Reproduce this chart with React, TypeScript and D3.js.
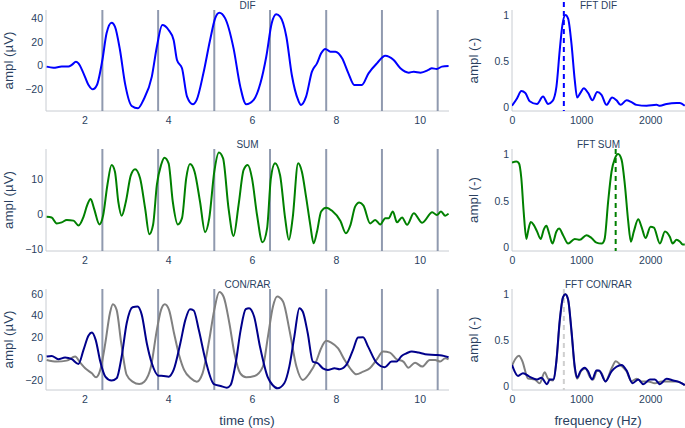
import React, { useEffect, useRef } from 'react';
import * as d3 from 'd3';

// time-domain traces: [time (ms), amplitude (µV)]
const difTrace = [
  [1.10, -1.1], [1.26, -2.0], [1.46, -1.1], [1.62, -1.1], [1.70, 0.3], [1.80, 3.1], [1.86, 1.7],
  [1.98, -6.8], [2.10, -16.7], [2.20, -20.4], [2.30, -16.7], [2.43, 4.5], [2.53, 27.2], [2.65, 36.2],
  [2.73, 32.9], [2.85, 13.0], [2.97, -15.3], [3.13, -34.5], [3.28, -36.5], [3.41, -29.4], [3.61, -9.6],
  [3.73, 15.8], [3.86, 34.2], [4.01, 30.0], [4.13, 21.5], [4.21, 4.5], [4.33, -2.5], [4.45, -26.6],
  [4.59, -33.1], [4.68, -29.4], [4.84, -6.8], [5.00, 21.5], [5.12, 39.9], [5.22, 44.7], [5.36, 39.9],
  [5.56, 14.4], [5.72, -18.1], [5.86, -33.1], [6.04, -29.4], [6.20, -15.3], [6.34, 7.3], [6.47, 35.7],
  [6.58, 43.3], [6.67, 41.3], [6.82, 24.3], [6.95, -8.2], [7.10, -29.4], [7.17, -33.6], [7.29, -26.6],
  [7.43, -5.4], [7.55, 1.7], [7.65, 10.2], [7.75, 13.9], [7.87, 11.6], [7.99, 11.6], [8.15, 6.0],
  [8.30, -6.8], [8.44, -16.7], [8.62, -16.7], [8.78, -6.8], [8.98, 1.7], [9.18, 8.2], [9.38, 4.5],
  [9.54, -2.5], [9.74, -6.2], [9.86, -5.4], [10.02, -6.2], [10.21, -3.9], [10.29, -2.5], [10.41, -3.1],
  [10.53, -1.1], [10.69, -0.5]
];

const sumTrace = [
  [1.10, -0.7], [1.22, -0.9], [1.34, -2.6], [1.46, -2.3], [1.58, -1.6], [1.74, -1.8], [1.86, -3.2],
  [1.98, -0.7], [2.07, 2.7], [2.15, 4.4], [2.23, 1.7], [2.36, -2.9], [2.45, -0.2], [2.55, 8.4],
  [2.65, 14.1], [2.73, 12.2], [2.81, 3.6], [2.89, -0.4], [2.99, 3.6], [3.11, 11.2], [3.21, 12.9],
  [3.33, 10.3], [3.45, 1.7], [3.55, -5.7], [3.64, -3.0], [3.73, 8.4], [3.83, 14.1], [3.91, 16.2],
  [4.01, 14.6], [4.11, 3.6], [4.23, -2.9], [4.33, -1.1], [4.43, 10.3], [4.52, 14.4], [4.63, 12.2],
  [4.76, 3.6], [4.88, -5.1], [4.98, -1.1], [5.10, 12.2], [5.21, 17.7], [5.31, 16.0], [5.44, 1.7],
  [5.56, -6.2], [5.68, 2.7], [5.80, 12.7], [5.90, 14.1], [6.00, 10.3], [6.12, -0.2], [6.25, -8.0],
  [6.36, -4.0], [6.45, 10.3], [6.55, 14.6], [6.67, 11.2], [6.79, -1.1], [6.88, -7.3], [6.97, -1.1],
  [7.10, 14.6], [7.19, 12.2], [7.29, 5.0], [7.39, -3.0], [7.47, -8.3], [7.55, -5.0], [7.65, 0.8],
  [7.77, 1.9], [7.91, 1.0], [8.11, -1.9], [8.24, -5.4], [8.35, -3.0], [8.46, 2.2], [8.56, 3.4],
  [8.66, 2.5], [8.82, -2.6], [8.94, -1.6], [9.06, -2.9], [9.18, -1.1], [9.26, -1.1], [9.36, 0.8],
  [9.46, -2.3], [9.58, -0.9], [9.70, -3.0], [9.86, 0.3], [10.06, -2.4], [10.30, 0.6], [10.41, -0.2],
  [10.51, 0.8], [10.61, -0.4], [10.69, 0.2]
];

const conTrace = [
  [1.10, -1.6], [1.34, -3.1], [1.58, -2.2], [1.78, 1.6], [1.90, -4.1], [2.02, -9.4], [2.18, -14.1],
  [2.28, -17.8], [2.38, -10.9], [2.50, 14.1], [2.61, 42.2], [2.68, 50.6], [2.77, 45.3], [2.88, 14.1],
  [3.01, -15.6], [3.15, -21.9], [3.31, -24.1], [3.43, -21.9], [3.59, -7.8], [3.73, 26.6], [3.83, 45.3],
  [3.92, 50.6], [4.02, 45.3], [4.14, 23.4], [4.26, 3.1], [4.38, -10.9], [4.54, -18.8], [4.68, -21.9],
  [4.82, -14.1], [4.98, 17.2], [5.10, 45.3], [5.22, 61.9], [5.32, 57.8], [5.46, 32.8], [5.58, 4.7],
  [5.72, -14.1], [5.86, -17.8], [6.06, -16.6], [6.26, -7.8], [6.38, 20.3], [6.50, 48.4], [6.60, 57.8],
  [6.74, 53.1], [6.90, 25.0], [7.06, -7.8], [7.21, -20.3], [7.37, -14.1], [7.53, -3.1], [7.65, 9.4],
  [7.77, 16.3], [7.89, 14.7], [8.05, 9.4], [8.21, -1.6], [8.37, -10.9], [8.49, -15.0], [8.65, -12.5],
  [8.81, -9.4], [8.97, -1.6], [9.13, 6.3], [9.29, 5.3], [9.45, -0.9], [9.61, -3.1], [9.73, -8.8],
  [9.89, -4.1], [10.06, -7.8], [10.24, -1.6], [10.37, -1.6], [10.49, -3.1], [10.61, 0.0], [10.69, -0.9]
];

const rarTrace = [
  [1.10, 1.6], [1.22, 2.2], [1.38, -0.9], [1.54, 0.6], [1.70, -0.9], [1.86, -5.3], [1.98, 7.8],
  [2.10, 21.3], [2.18, 24.1], [2.27, 17.2], [2.38, -3.1], [2.50, -17.2], [2.65, -20.9], [2.77, -18.8],
  [2.89, 1.6], [3.01, 32.8], [3.15, 47.8], [3.27, 48.4], [3.37, 40.6], [3.49, 14.1], [3.61, -4.7],
  [3.77, -16.3], [3.89, -16.6], [4.01, -17.2], [4.13, -10.9], [4.29, 14.1], [4.41, 35.9], [4.52, 45.9],
  [4.61, 44.7], [4.73, 26.6], [4.89, -1.6], [5.09, -24.1], [5.25, -25.9], [5.40, -27.5], [5.49, -25.0],
  [5.61, -4.7], [5.73, 26.6], [5.85, 45.9], [5.93, 46.9], [6.05, 39.1], [6.19, 10.9], [6.37, -17.2],
  [6.49, -25.0], [6.61, -28.1], [6.77, -23.4], [6.89, -7.8], [7.01, 20.3], [7.13, 46.9], [7.21, 43.8],
  [7.33, 23.4], [7.45, -3.1], [7.57, -4.7], [7.69, -9.4], [7.81, -10.9], [7.97, -9.4], [8.09, -10.3],
  [8.25, -6.3], [8.41, 7.8], [8.53, 19.4], [8.65, 19.7], [8.77, 10.9], [8.97, -4.1], [9.17, -8.4],
  [9.33, -3.1], [9.45, -3.1], [9.57, 2.2], [9.69, 4.7], [9.81, 6.3], [9.97, 5.3], [10.13, 3.8],
  [10.37, 3.1], [10.53, 2.5], [10.69, 0.9]
];

// spectra: [frequency (Hz), normalised amplitude]
const fftDif = [
  [0, 0.01], [72, 0.09], [135, 0.17], [193, 0.15], [256, 0.06], [362, 0.03], [449, 0.11], [522, 0.03],
  [585, 0.06], [643, 0.22], [691, 0.62], [729, 0.89], [773, 1.0], [812, 0.96], [860, 0.69], [908, 0.29],
  [942, 0.10], [990, 0.15], [1039, 0.20], [1101, 0.15], [1164, 0.07], [1232, 0.16], [1295, 0.13],
  [1367, 0.02], [1449, 0.10], [1512, 0.07], [1570, 0.02], [1657, 0.07], [1729, 0.05], [1802, 0.02],
  [1947, 0.01], [2092, 0.02], [2140, 0.01], [2237, 0.03], [2382, 0.04], [2430, 0.04], [2500, 0.01]
];

const fftSum = [
  [0, 0.91], [63, 0.92], [101, 0.90], [135, 0.74], [169, 0.38], [208, 0.09], [232, 0.17], [271, 0.27],
  [314, 0.24], [362, 0.17], [415, 0.09], [459, 0.19], [498, 0.23], [536, 0.15], [585, 0.04], [643, 0.17],
  [681, 0.20], [739, 0.13], [812, 0.04], [908, 0.09], [981, 0.08], [1077, 0.13], [1150, 0.10],
  [1222, 0.05], [1295, 0.04], [1319, 0.05], [1343, 0.10], [1391, 0.49], [1440, 0.81], [1488, 0.95],
  [1536, 1.0], [1585, 0.94], [1633, 0.67], [1681, 0.28], [1720, 0.06], [1763, 0.17], [1826, 0.30],
  [1874, 0.22], [1932, 0.10], [2005, 0.22], [2053, 0.21], [2140, 0.04], [2213, 0.17], [2285, 0.11],
  [2324, 0.04], [2382, 0.08], [2430, 0.06], [2469, 0.03], [2500, 0.03]
];

const fftCon = [
  [0, 0.22], [53, 0.30], [101, 0.33], [150, 0.27], [232, 0.08], [329, 0.07], [401, 0.03], [473, 0.15],
  [522, 0.08], [594, 0.06], [643, 0.27], [691, 0.70], [739, 0.97], [773, 1.0], [812, 0.94], [860, 0.59],
  [908, 0.19], [942, 0.08], [1005, 0.17], [1063, 0.19], [1126, 0.10], [1174, 0.07], [1232, 0.17],
  [1295, 0.14], [1353, 0.05], [1440, 0.19], [1502, 0.27], [1570, 0.23], [1657, 0.16], [1729, 0.05],
  [1802, 0.08], [1874, 0.05], [1971, 0.05], [2068, 0.03], [2164, 0.05], [2285, 0.05], [2382, 0.05],
  [2500, 0.01]
];

const fftRar = [
  [0, 0.23], [87, 0.11], [159, 0.14], [256, 0.10], [362, 0.07], [425, 0.09], [507, 0.02], [546, 0.07],
  [604, 0.07], [643, 0.28], [691, 0.72], [739, 0.97], [773, 1.0], [812, 0.94], [860, 0.61], [908, 0.21],
  [942, 0.09], [990, 0.16], [1053, 0.20], [1101, 0.16], [1159, 0.07], [1222, 0.17], [1261, 0.17],
  [1353, 0.05], [1440, 0.16], [1512, 0.21], [1585, 0.23], [1657, 0.17], [1744, 0.03], [1826, 0.07],
  [1899, 0.02], [1995, 0.07], [2068, 0.07], [2140, 0.02], [2237, 0.08], [2333, 0.06], [2430, 0.04],
  [2500, 0.01]
];

// stimulus onsets (ms) and reference frequencies (Hz)
const stimTimes = [2.43, 3.76, 5.10, 6.43, 7.77, 9.10, 10.43];
const timeTicks = [2, 4, 6, 8, 10];
const freqTicks = [0, 1000, 2000];
const fftTicks = [0, 0.5, 1];

export default function App() {
  const svgRef = useRef<SVGSVGElement>(null);

  useEffect(() => {
    const svg = d3.select(svgRef.current);
    svg.selectAll('*').remove();

    const font = "Arial, 'Liberation Sans', sans-serif";
    const textColor = '#2a3f5f';
    const rows = [[10, 111], [149, 251], [289, 390]];
    const timeX = [46, 449];
    const freqX = [512, 685];

    const panels = [
      { title: 'DIF', xr: timeX, row: 0, xd: [1.085, 10.7], yd: [-38.8, 47], yt: [-20, 0, 20, 40],
        series: [{ d: difTrace, c: 'blue' }], ylab: 'ampl (µV)', kind: 'time' },
      { title: 'SUM', xr: timeX, row: 1, xd: [1.085, 10.7], yd: [-10.5, 18.7], yt: [-10, 0, 10],
        series: [{ d: sumTrace, c: 'green' }], ylab: 'ampl (µV)', kind: 'time' },
      { title: 'CON/RAR', xr: timeX, row: 2, xd: [1.085, 10.7], yd: [-29.7, 64.8], yt: [-20, 0, 20, 40, 60],
        series: [{ d: conTrace, c: 'gray' }, { d: rarTrace, c: 'darkblue' }], ylab: 'ampl (µV)', kind: 'time' },
      { title: 'FFT DIF', xr: freqX, row: 0, xd: [0, 2503], yd: [-0.047, 1.055], yt: fftTicks,
        series: [{ d: fftDif, c: 'blue' }], ylab: 'ampl (-)', kind: 'fft', mark: 750, markColor: 'blue', markExtra: 8 },
      { title: 'FFT SUM', xr: freqX, row: 1, xd: [0, 2503], yd: [-0.04, 1.054], yt: fftTicks,
        series: [{ d: fftSum, c: 'green' }], ylab: 'ampl (-)', kind: 'fft', mark: 1500, markColor: 'green', markExtra: 0 },
      { title: 'FFT CON/RAR', xr: freqX, row: 2, xd: [0, 2503], yd: [-0.044, 1.058], yt: fftTicks,
        series: [{ d: fftCon, c: 'gray' }, { d: fftRar, c: 'darkblue' }], ylab: 'ampl (-)', kind: 'fft', mark: 750, markColor: '#cfcfcf', markExtra: 0 }
    ];

    const defs = svg.append('defs');

    panels.forEach((p, i) => {
      const [top, bottom] = rows[p.row];
      const x = d3.scaleLinear().domain(p.xd).range(p.xr);
      const y = d3.scaleLinear().domain(p.yd).range([bottom, top]);
      const g = svg.append('g');

      defs.append('clipPath').attr('id', `clip${i}`)
        .append('rect')
        .attr('x', p.xr[0]).attr('y', top)
        .attr('width', p.xr[1] - p.xr[0]).attr('height', bottom - top);

      // axis lines
      g.append('line')
        .attr('x1', p.xr[0]).attr('x2', p.xr[0]).attr('y1', top).attr('y2', bottom)
        .attr('stroke', '#c8ccd2').attr('stroke-width', 1);
      g.append('line')
        .attr('x1', p.xr[0]).attr('x2', p.xr[1]).attr('y1', bottom).attr('y2', bottom)
        .attr('stroke', '#c8ccd2').attr('stroke-width', 1);

      // stimulus markers / reference frequency
      if (p.kind === 'time') {
        stimTimes.forEach(t => {
          g.append('line')
            .attr('x1', x(t)).attr('x2', x(t)).attr('y1', top).attr('y2', bottom)
            .attr('stroke', '#7d88a1').attr('stroke-opacity', 0.85).attr('stroke-width', 2);
        });
      } else {
        g.append('line')
          .attr('x1', x(p.mark)).attr('x2', x(p.mark))
          .attr('y1', top - p.markExtra).attr('y2', bottom)
          .attr('stroke', p.markColor).attr('stroke-width', 2)
          .attr('stroke-dasharray', '5,4');
      }

      // ticks
      const xAxis = d3.axisBottom(x)
        .tickValues(p.kind === 'time' ? timeTicks : freqTicks)
        .tickSize(0).tickPadding(6)
        .tickFormat(d3.format('d'));
      const xg = g.append('g').attr('transform', `translate(0,${bottom})`).call(xAxis);
      const yAxis = d3.axisLeft(y).tickValues(p.yt).tickSize(0).tickPadding(3)
        .tickFormat(p.kind === 'time' ? d3.format('d') : d3.format('~g'));
      const yg = g.append('g').attr('transform', `translate(${p.xr[0]},0)`).call(yAxis);
      [xg, yg].forEach(a => {
        a.select('.domain').remove();
        a.selectAll('text')
          .style('font-family', font).style('font-size', '10.5px').attr('fill', textColor);
      });

      // traces
      const line = d3.line<number[]>()
        .x(d => x(d[0]))
        .y(d => y(d[1]))
        .curve(d3.curveMonotoneX);
      p.series.forEach(s => {
        g.append('path')
          .datum(s.d)
          .attr('clip-path', `url(#clip${i})`)
          .attr('fill', 'none')
          .attr('stroke', s.c)
          .attr('stroke-width', 2)
          .attr('stroke-linejoin', 'round')
          .attr('d', line);
      });

      // subplot title
      g.append('text')
        .attr('x', (p.xr[0] + p.xr[1]) / 2)
        .attr('y', top - 1.5)
        .attr('text-anchor', 'middle')
        .style('font-family', font).style('font-size', '10px')
        .attr('fill', textColor)
        .text(p.title);

      // y label
      const lx = p.kind === 'time' ? 8 : 473;
      g.append('text')
        .attr('transform', `translate(${lx},${(top + bottom) / 2}) rotate(-90)`)
        .attr('text-anchor', 'middle')
        .attr('dominant-baseline', 'central')
        .style('font-family', font).style('font-size', '13.3px')
        .attr('fill', textColor)
        .text(p.ylab);
    });

    // x labels
    svg.append('text')
      .attr('x', 247).attr('y', 425)
      .attr('text-anchor', 'middle')
      .style('font-family', font).style('font-size', '13.3px')
      .attr('fill', textColor)
      .text('time (ms)');
    svg.append('text')
      .attr('x', 598).attr('y', 425)
      .attr('text-anchor', 'middle')
      .style('font-family', font).style('font-size', '13.3px')
      .attr('fill', textColor)
      .text('frequency (Hz)');
  }, []);

  return (
    <svg
      ref={svgRef}
      width={685}
      height={428}
      style={{ position: 'absolute', left: 0, top: 0, background: '#fff' }}
    />
  );
}
